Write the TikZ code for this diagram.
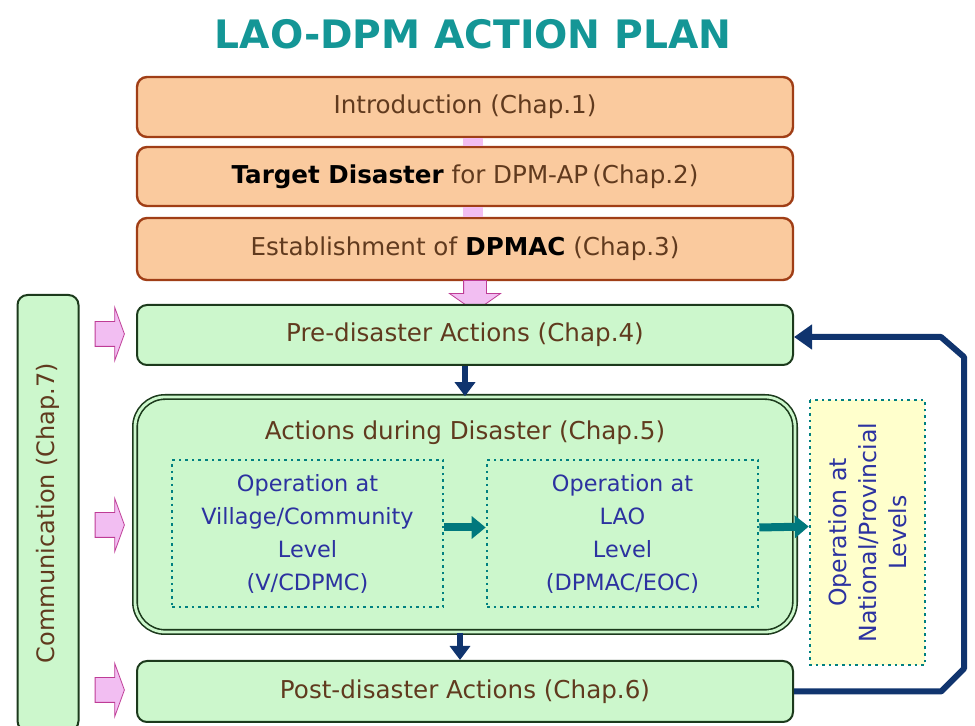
\documentclass[tikz,border=0pt]{standalone}
\usepackage{fontspec}
\setmainfont{DejaVu Sans}
\usetikzlibrary{arrows.meta,shapes.arrows}

\definecolor{orangefill}{RGB}{250,202,158}
\definecolor{orangeline}{RGB}{160,62,22}
\definecolor{greenfill}{RGB}{204,247,204}
\definecolor{greenline}{RGB}{28,58,28}
\definecolor{yellowfill}{RGB}{255,255,204}
\definecolor{browntext}{RGB}{96,58,30}
\definecolor{bluetext}{RGB}{44,50,160}
\definecolor{dotteal}{RGB}{0,128,128}
\definecolor{titleteal}{RGB}{20,150,150}
\definecolor{pinkfill}{RGB}{242,190,242}
\definecolor{pinkline}{RGB}{190,60,150}
\definecolor{navy}{RGB}{16,52,110}
\definecolor{arrowteal}{RGB}{0,120,125}

\begin{document}
\begin{tikzpicture}[x=0.5pt,y=-0.5pt,
    basetext/.style={font=\fontsize{12.3}{14.5}\selectfont, text=browntext},
    orangebox/.style={basetext, draw=orangeline, line width=1.2pt, fill=orangefill,
      rounded corners=5pt, minimum width=328pt},
    greenbox/.style={basetext, draw=greenline, line width=1pt, fill=greenfill,
      rounded corners=5pt, minimum width=328pt},
    opbox/.style={draw=dotteal, dotted, line width=1.3pt, fill=greenfill, align=center, inner sep=1pt,
      text=bluetext, font=\fontsize{11.2}{16.5}\selectfont},
    pinkarrow/.style={single arrow, draw=pinkline, line width=0.4pt, fill=pinkfill,
      single arrow tip angle=140, single arrow head indent=0pt, inner sep=6pt,
      minimum height=14.5pt, minimum width=22pt},
    navyarrow/.style={draw=navy, line width=2.6pt, -{Triangle[length=7pt,width=10pt]}},
    tealarrow/.style={draw=arrowteal, line width=4pt, -{Triangle[length=7pt,width=11pt]}}]
  \useasboundingbox (0,0) rectangle (975,726);

  \node[font=\fontsize{19.6}{24}\selectfont\bfseries, text=titleteal] (title) at (473,34) {LAO-DPM ACTION PLAN};

  % preparation part
  \node[orangebox, minimum height=30pt] (intro) at (465,107) {Introduction (Chap.1)};
  \node[orangebox, minimum height=29.5pt] (target) at (465,176.5) {\textbf{\color{black}Target Disaster} for DPM-AP\,(Chap.2)};
  \node[orangebox, minimum height=31pt] (dpmac) at (465,249) {Establishment of \textbf{\color{black}DPMAC} (Chap.3)};
  \draw[pinkfill, line width=10pt] ([xshift=4pt]intro.south) -- ([xshift=4pt]target.north);
  \draw[pinkfill, line width=10pt] ([xshift=4pt]target.south) -- ([xshift=4pt]dpmac.north);
  \node[pinkarrow, shape border rotate=270, single arrow tip angle=110, minimum height=12.5pt,
    minimum width=23pt, inner sep=5.5pt] (pdown) at (475,292) {};

  % actions
  \node[greenbox, minimum height=30pt] (pre) at (465,335) {Pre-disaster Actions (Chap.4)};
  \node[draw=greenline, double=greenfill, double distance=1.4pt, line width=0.8pt, fill=greenfill,
    rounded corners=15pt, minimum width=330pt, minimum height=117.5pt] (during) at (465,514.5) {};
  \node[basetext] (durtitle) at (465,433) {Actions during Disaster (Chap.5)};
  \node[opbox, minimum width=135.5pt, minimum height=73.5pt] (village) at (307.5,533.5)
    {Operation at\\Village/Community\\Level\\(V/CDPMC)};
  \node[opbox, minimum width=135.5pt, minimum height=73.5pt] (lao) at (622.5,533.5)
    {Operation at\\LAO\\Level\\(DPMAC/EOC)};
  \node[opbox, fill=yellowfill, rotate=90, font=\fontsize{11.8}{15}\selectfont,
    minimum width=132.5pt, minimum height=57.5pt] (national) at (867.5,532.5)
    {Operation at\\National/Provincial\\Levels};
  \node[greenbox, minimum height=30.5pt] (post) at (465,691.5) {Post-disaster Actions (Chap.6)};

  % communication
  \node[basetext, draw=greenline, line width=1pt, fill=greenfill, rounded corners=5pt, rotate=90,
    font=\fontsize{12}{14}\selectfont, minimum width=218pt, minimum height=30.5pt] (comm) at (48,513) {Communication (Chap.7)};
  \node[pinkarrow] (p1) at (107.5,334) {};
  \node[pinkarrow] (p2) at (107.5,525) {};
  \node[pinkarrow] (p3) at (107.5,690) {};

  % connectors
  \draw[navyarrow] (pre.south) -- (during.north);
  \draw[navyarrow] ([xshift=-2.5pt]during.south) -- ([xshift=-2.5pt]post.north);
  \draw[tealarrow] ([yshift=3pt]village.east) -- ([yshift=3pt]lao.west);
  \draw[tealarrow] ([yshift=3pt]lao.east) -- ([yshift=3pt]national.north);
  \draw[draw=navy, line width=3pt, line join=round, -{Triangle[length=9pt,width=12pt]}]
    (post.east) -- ++(147,0) -- ++(23,-23) -- ([shift={(170,22)}]pre.east) -- ([shift={(147,2)}]pre.east) -- ([yshift=-1pt]pre.east);
\end{tikzpicture}
\end{document}
